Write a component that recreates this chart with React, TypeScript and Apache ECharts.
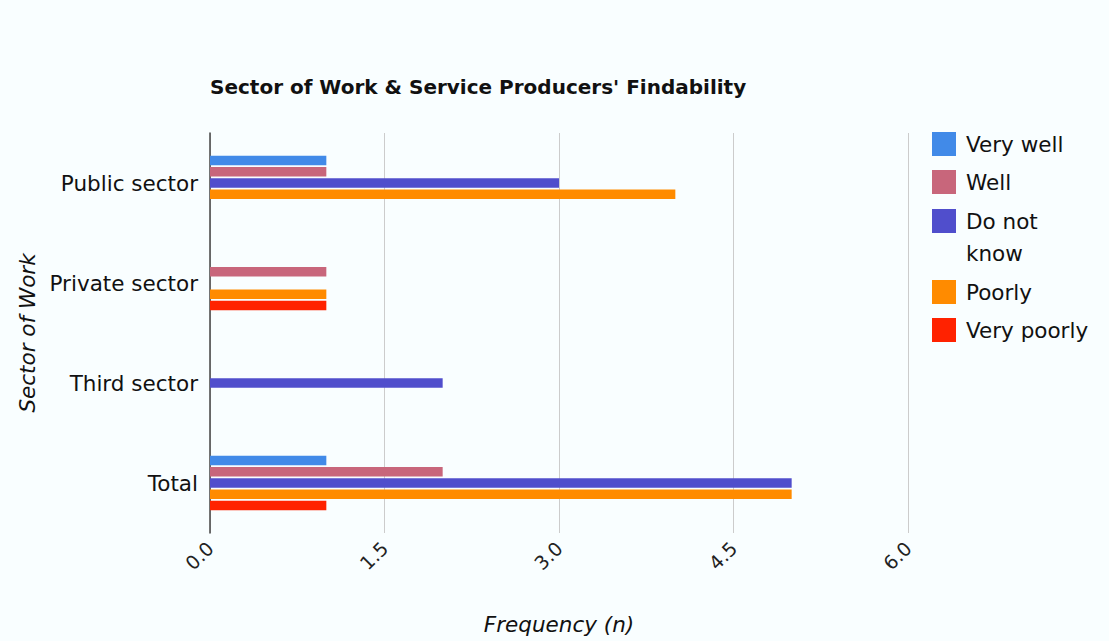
import React, { useEffect, useRef } from "react";
import * as echarts from "echarts";

const categories = ["Public sector", "Private sector", "Third sector", "Total"];
const seriesNames = ["Very well", "Well", "Do not know", "Poorly", "Very poorly"];
const veryWell = [1, 0, 0, 1];
const well = [1, 1, 0, 2];
const doNotKnow = [3, 0, 2, 5];
const poorly = [4, 1, 0, 5];
const veryPoorly = [0, 1, 0, 1];
const seriesValues = [veryWell, well, doNotKnow, poorly, veryPoorly];
const colors = ["#418ae8", "#c8667b", "#504ecc", "#ff8b00", "#ff2200"];
const xTicks = { min: 0, max: 6, interval: 1.5 };

const FONT = "DejaVu Sans";

export default function App() {
  const ref = useRef<HTMLDivElement>(null);
  useEffect(() => {
    if (!ref.current) return;
    const chart = echarts.init(ref.current, undefined, { renderer: "svg" });
    const tallIcon = "path://M0,4L24,4L24,28L0,28Z M0,0L0,0.01L0.01,0Z M0,64L0,63.99L0.01,64Z";
    const legendCommon = {
      orient: "vertical" as const,
      left: 932,
      padding: 0,
      itemWidth: 24,
      itemHeight: 24,
      itemGap: 14,
      icon: "rect",
      selectedMode: false,
      itemStyle: { borderWidth: 0 },
      textStyle: { fontFamily: FONT, fontSize: 21.5, color: "#111", padding: [0, 0, 0, 5] },
    };
    chart.setOption({
      animation: false,
      backgroundColor: "#f9feff",
      color: colors,
      title: {
        text: "Sector of Work & Service Producers' Findability",
        left: 210,
        top: 77,
        padding: 0,
        textStyle: { fontFamily: FONT, fontSize: 20, fontWeight: "bold", color: "#111" },
      },
      legend: [
        { ...legendCommon, top: 132, data: [seriesNames[0], seriesNames[1]] },
        {
          ...legendCommon,
          top: 205,
          itemHeight: 64,
          data: [{ name: seriesNames[2], icon: tallIcon }],
          formatter: (n: string) => n.replace("Do not ", "Do not\n"),
          textStyle: { ...legendCommon.textStyle, lineHeight: 32 },
        },
        { ...legendCommon, top: 280, data: [seriesNames[3], seriesNames[4]] },
      ],
      grid: { left: 210, right: 201, top: 133, bottom: 108 },
      xAxis: {
        type: "value",
        min: xTicks.min,
        max: xTicks.max,
        interval: xTicks.interval,
        name: "Frequency (n)",
        nameLocation: "middle",
        nameGap: 80,
        nameTextStyle: { fontFamily: FONT, fontSize: 21.5, fontStyle: "italic", color: "#111" },
        axisLine: { show: false },
        axisTick: { show: false },
        axisLabel: {
          rotate: 45,
          margin: 12,
          fontFamily: FONT,
          fontSize: 19,
          color: "#222",
          formatter: (v: number) => v.toFixed(1),
        },
        splitLine: { show: true, lineStyle: { color: "#cccccc", width: 1 } },
      },
      yAxis: {
        type: "category",
        data: categories,
        inverse: true,
        name: "Sector of Work",
        nameLocation: "middle",
        nameGap: 165,
        nameRotate: 90,
        nameTextStyle: { fontFamily: FONT, fontSize: 21.5, fontStyle: "italic", color: "#111" },
        axisLine: { show: true, lineStyle: { color: "#444", width: 1.5 } },
        axisTick: { show: false },
        axisLabel: { margin: 12, fontFamily: FONT, fontSize: 21.5, color: "#111" },
        splitLine: { show: false },
      },
      series: seriesNames.map((name, i) => ({
        name,
        type: "bar",
        data: seriesValues[i],
        barWidth: 9.5,
        barGap: "18%",
        itemStyle: { color: colors[i] },
      })),
    });
    return () => chart.dispose();
  }, []);
  return (
    <div
      ref={ref}
      style={{ position: "absolute", left: 0, top: 0, width: 1109, height: 641 }}
    />
  );
}
